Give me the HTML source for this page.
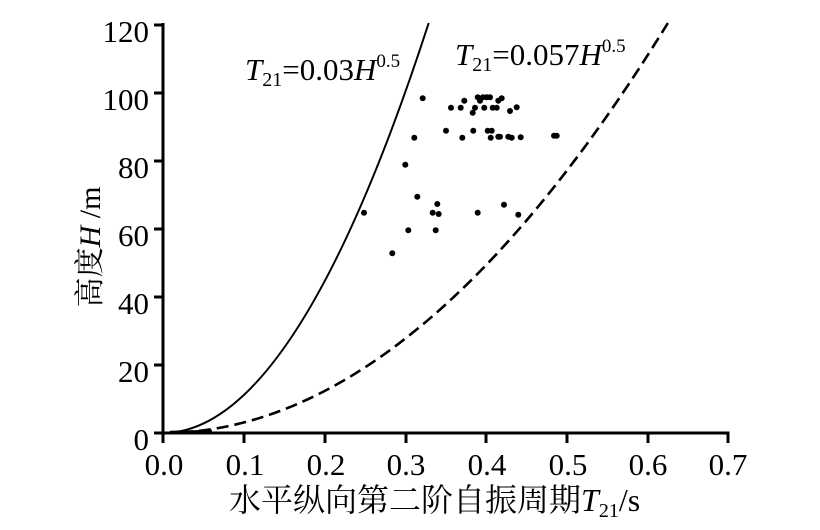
<!DOCTYPE html>
<html><head><meta charset="utf-8"><style>
html,body{margin:0;padding:0;background:#fff;}
svg{display:block;}
text{font-family:"Liberation Serif","Noto Serif CJK SC",serif;fill:#000;}
</style></head><body>
<svg width="820" height="530" viewBox="0 0 820 530" xmlns="http://www.w3.org/2000/svg">
<g stroke="#000" stroke-width="3" fill="none">
<line x1="163" y1="23" x2="163" y2="435"/>
<line x1="161.5" y1="433" x2="729.5" y2="433"/>
<line x1="154" y1="25" x2="163" y2="25"/>
<line x1="154" y1="93" x2="163" y2="93"/>
<line x1="154" y1="161" x2="163" y2="161"/>
<line x1="154" y1="229" x2="163" y2="229"/>
<line x1="154" y1="297" x2="163" y2="297"/>
<line x1="154" y1="365" x2="163" y2="365"/>
<line x1="154" y1="433" x2="163" y2="433"/>
<line x1="163" y1="433" x2="163" y2="443"/>
<line x1="244" y1="433" x2="244" y2="443"/>
<line x1="325" y1="433" x2="325" y2="443"/>
<line x1="406" y1="433" x2="406" y2="443"/>
<line x1="486" y1="433" x2="486" y2="443"/>
<line x1="567" y1="433" x2="567" y2="443"/>
<line x1="648" y1="433" x2="648" y2="443"/>
<line x1="728" y1="433" x2="728" y2="443"/>
</g>
<path d="M163 433 Q295.8 433 428.7 23" stroke="#000" stroke-width="2" fill="none"/>
<path d="M163 433 Q415.4 433 667.9 23" stroke="#000" stroke-width="2.6" fill="none" stroke-dasharray="12 6"/>
<line x1="170" y1="432" x2="212" y2="431" stroke="#000" stroke-width="2.5"/>
<g font-size="31" text-anchor="end">
<text x="149" y="42">120</text>
<text x="149" y="110">100</text>
<text x="149" y="178">80</text>
<text x="149" y="246">60</text>
<text x="149" y="314">40</text>
<text x="149" y="382">20</text>
<text x="149" y="450">0</text>
</g>
<g font-size="31" text-anchor="middle">
<text x="164" y="475">0.0</text>
<text x="245" y="475">0.1</text>
<text x="326" y="475">0.2</text>
<text x="406" y="475">0.3</text>
<text x="487" y="475">0.4</text>
<text x="568" y="475">0.5</text>
<text x="648" y="475">0.6</text>
<text x="728" y="475">0.7</text>
</g>
<text x="229" y="511" font-size="32">水平纵向第二阶自振周期<tspan font-style="italic">T</tspan><tspan font-size="20" dy="6">21</tspan><tspan dy="-6">/s</tspan></text>
<text transform="translate(100,247) rotate(-90)" text-anchor="middle" font-size="30">高度<tspan font-style="italic">H</tspan> /m</text>
<text x="245" y="80" font-size="31"><tspan font-style="italic">T</tspan><tspan font-size="20" dy="6">21</tspan><tspan dy="-6">=0.03</tspan><tspan font-style="italic">H</tspan><tspan font-size="19" dy="-13">0.5</tspan></text>
<text x="455" y="65" font-size="31"><tspan font-style="italic">T</tspan><tspan font-size="20" dy="6">21</tspan><tspan dy="-6">=0.057</tspan><tspan font-style="italic">H</tspan><tspan font-size="19" dy="-13">0.5</tspan></text>
<g fill="#000">
<circle cx="422.7" cy="98.3" r="3"/><circle cx="451" cy="107.7" r="3"/><circle cx="460.7" cy="107.7" r="3"/><circle cx="464.3" cy="100.7" r="3"/>
<circle cx="472.7" cy="112.7" r="3"/><circle cx="475" cy="107.7" r="3"/><circle cx="477.7" cy="97.3" r="3"/><circle cx="480" cy="100.7" r="3"/>
<circle cx="483" cy="97.3" r="3"/><circle cx="484.3" cy="107.7" r="3"/><circle cx="486.7" cy="97.3" r="3"/><circle cx="490" cy="97.3" r="3"/>
<circle cx="492.7" cy="107.7" r="3"/><circle cx="496.7" cy="107.7" r="3"/><circle cx="498.3" cy="100.7" r="3"/><circle cx="501.7" cy="98.3" r="3"/>
<circle cx="510" cy="111" r="3"/><circle cx="516.7" cy="107.3" r="3"/>
<circle cx="446" cy="130.7" r="3"/><circle cx="462.3" cy="137.7" r="3"/><circle cx="473.3" cy="130.7" r="3"/><circle cx="487.7" cy="130.7" r="3"/>
<circle cx="491.7" cy="130.7" r="3"/><circle cx="490.7" cy="137.7" r="3"/><circle cx="498.3" cy="136.7" r="3"/><circle cx="500" cy="136.7" r="3"/>
<circle cx="508.3" cy="136.7" r="3"/><circle cx="511.7" cy="137.7" r="3"/><circle cx="520.7" cy="137.3" r="3"/>
<circle cx="554" cy="135.7" r="3"/><circle cx="556.7" cy="135.7" r="3"/>
<circle cx="414.3" cy="137.7" r="3"/><circle cx="405.3" cy="164.7" r="3"/><circle cx="417.3" cy="196.7" r="3"/>
<circle cx="437.3" cy="204" r="3"/><circle cx="432.7" cy="212.7" r="3"/><circle cx="438.7" cy="214" r="3"/>
<circle cx="477.7" cy="212.7" r="3"/><circle cx="504" cy="204.7" r="3"/><circle cx="518.3" cy="214.7" r="3"/>
<circle cx="364" cy="212.7" r="3"/><circle cx="408.3" cy="230.3" r="3"/><circle cx="435.7" cy="230.3" r="3"/><circle cx="392.3" cy="253.3" r="3"/>
</g>
</svg>
</body></html>
